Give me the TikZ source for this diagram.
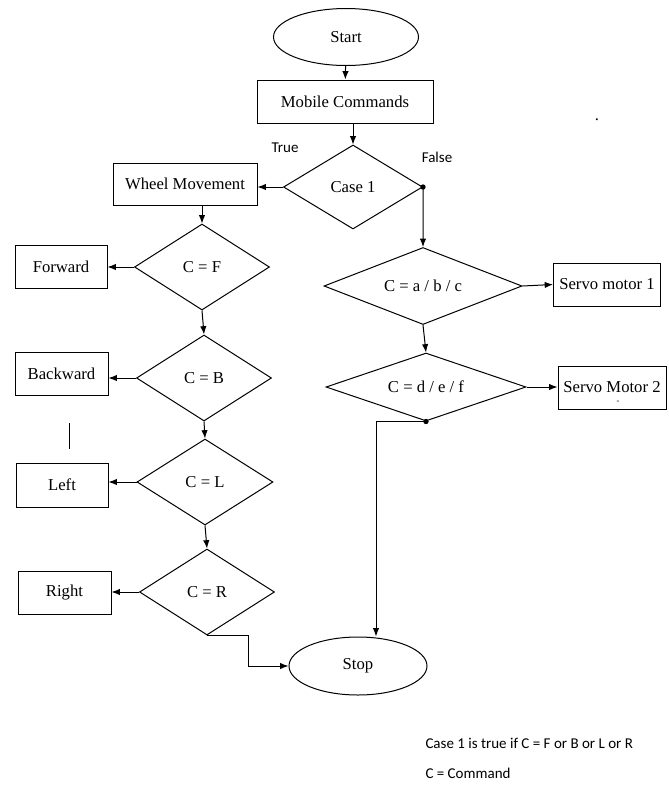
\documentclass[tikz,border=0pt]{standalone}
\usepackage{fontspec}
\setmainfont{Liberation Serif}
\newfontfamily\notefont{Carlito}
\usetikzlibrary{shapes.geometric,arrows.meta}

\tikzset{
  box/.style={draw, rectangle, inner sep=0pt, minimum height=25.8pt},
  terminal/.style={draw, ellipse, inner sep=0pt},
  decision/.style 2 args={draw, diamond, inner sep=0pt, shape aspect=2,
    minimum width=#1, minimum height=#2},
  note/.style={font=\notefont\fontsize{9}{11}\selectfont, inner sep=0pt},
  joint/.style={fill, circle, inner sep=0pt, minimum size=3.2pt}
}

\begin{document}
\begin{tikzpicture}[x=0.6pt, y=-0.6pt, font=\fontsize{10}{12}\selectfont,
  line width=0.6pt, >={Latex[length=5pt,width=3.8pt]}]
\useasboundingbox (0,0) rectangle (668,797);

% main line
\node[terminal, minimum width=87pt, minimum height=34.2pt] (start) at (346,37) {Start};
\node[box, minimum width=105.6pt] (mobile) at (345,101.5) {Mobile Commands};
\node[decision={83.4pt}{50.4pt}] (case1) at (353,187) {Case 1};
\node[note] (truelbl) at (285,148) {True};
\node[note] (falselbl) at (437,157) {False};
\node (dotmark) at (597,120) {.};

% wheel branch
\node[box, minimum width=86.4pt, minimum height=25.2pt] (wheel) at (185,184) {Wheel Movement};
\node[decision={81pt}{51.6pt}] (cf) at (202,267) {C = F};
\node[box, minimum width=55.2pt] (fwd) at (61,266.5) {Forward};
\node[decision={81pt}{51.6pt}] (cb) at (204,378) {C = B};
\node[box, minimum width=55.8pt] (bwd) at (61.5,373.5) {Backward};
\node[decision={81.6pt}{51.6pt}] (cl) at (205,482) {C = L};
\node[box, minimum width=55.2pt, minimum height=26.4pt] (lft) at (62,485) {Left};
\node[decision={81pt}{51.6pt}] (cr) at (207,592) {C = R};
\node[box, minimum width=55.8pt] (rgt) at (64.5,592.5) {Right};

% servo branch
\node[decision={118.8pt}{46.2pt}] (cabc) at (423,286) {C = a / b / c};
\node[box, minimum width=64.2pt] (srv1) at (607,284.5) {Servo motor 1};
\node[decision={120pt}{40.8pt}] (cdef) at (426,387) {C = d / e / f};
\node[box, minimum width=64.8pt] (srv2) at (612,387.5) {Servo Motor 2};
\node[font=\tiny, inner sep=0pt] (srv2dash) at (618,402) {-};

\node[terminal, minimum width=82.8pt, minimum height=34.8pt] (stop) at (358,666) {Stop};

\coordinate (j1) at (376,0);
\coordinate (j2) at (248,0);

\draw[->] (start) -- (mobile);
\draw[->] (case1.north |- mobile.south) -- (case1.north);
\draw[->] (case1.west) -- (wheel.east |- case1.west);
\draw[->] (cf.north |- wheel.south) -- (cf.north);

\draw[->] (cf.west) -- (fwd.east |- cf.west);
\draw[->] (cf.south) -- (cb.north);
\draw[->] (cb.west) -- (bwd.east |- cb.west);
\draw[->] (cb.south) -- (cl.north);
\draw[->] (cl.west) -- (lft.east |- cl.west);
\draw[->] (cl.south) -- (cr.north);
\draw[->] (cr.west) -- (rgt.east |- cr.west);
\draw[->] (cr.south) -- (cr.south -| j2) |- (stop.west);

\node[joint] at (case1.east) {};
\draw[->] (case1.east) -- (cabc.north);
\draw[->] (cabc.east) -- (srv1.west);
\draw[->] (cabc.south) -- (cdef.north);
\draw[->] (cdef.east) -- (srv2.west |- cdef.east);
\node[joint] at (cdef.south) {};
\draw[->] (cdef.south) -- (cdef.south -| j1) -- (j1 |- stop.north);

\draw (69,423) -- (69,449);

\node[note, anchor=west] (note1) at (425,743) {Case 1 is true if C = F or B or L or R};
\node[note, anchor=west] (note2) at (425,773) {C = Command};
\end{tikzpicture}
\end{document}
